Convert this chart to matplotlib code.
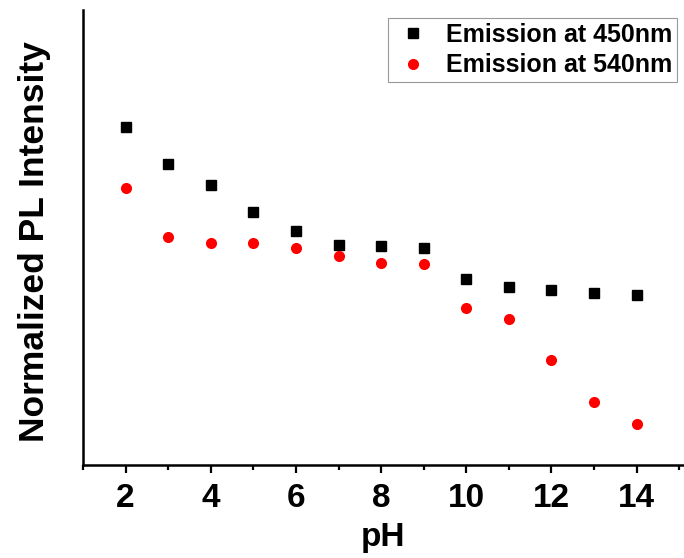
import numpy as np
import matplotlib
matplotlib.use("Agg")
import matplotlib.pyplot as plt
from matplotlib.ticker import MultipleLocator

ph = [2, 3, 4, 5, 6, 7, 8, 9, 10, 11, 12, 13, 14]
em_450 = [0.742, 0.661, 0.615, 0.556, 0.515, 0.483, 0.481, 0.476, 0.408, 0.392, 0.385, 0.379, 0.374]
em_540 = [0.609, 0.501, 0.489, 0.487, 0.476, 0.460, 0.445, 0.441, 0.344, 0.321, 0.231, 0.138, 0.090]

plt.rcParams["font.family"] = "Liberation Sans"
plt.rcParams["font.weight"] = "bold"

fig = plt.figure(figsize=(6.84, 5.58), dpi=100)
ax = fig.add_axes([0.1213, 0.1667, 0.8780, 0.8153])

ax.plot(ph, em_450, linestyle="none", marker="s", markersize=7.2, color="black",
        label="Emission at 450nm")
ax.plot(ph, em_540, linestyle="none", marker="o", markersize=8, color="red",
        markeredgewidth=0, label="Emission at 540nm")

ax.set_xlim(1, 15.1)
ax.set_ylim(0, 1)
ax.xaxis.set_major_locator(MultipleLocator(2))
ax.xaxis.set_minor_locator(MultipleLocator(1))
ax.set_yticks([])

for s in ["top", "right"]:
    ax.spines[s].set_visible(False)
for s in ["left", "bottom"]:
    ax.spines[s].set_linewidth(1.8)

ax.tick_params(axis="x", which="major", length=6, width=1.6, labelsize=24, pad=7)
ax.tick_params(axis="x", which="minor", length=3.6, width=1.6)

ax.set_xlabel("pH", fontsize=24, fontweight="bold", labelpad=6)
ax.set_ylabel("Normalized PL Intensity", fontsize=25.5, fontweight="bold")
ax.yaxis.set_label_coords(-0.053, 0.49)

leg = ax.legend(loc="upper right", bbox_to_anchor=(0.989, 0.982), fontsize=18, frameon=True,
                fancybox=False, edgecolor="gray", handletextpad=0.5, borderpad=0.2,
                labelspacing=0.25, handlelength=1.6, borderaxespad=0)
leg.get_frame().set_linewidth(0.8)

fig.savefig("out.png", dpi=100)
